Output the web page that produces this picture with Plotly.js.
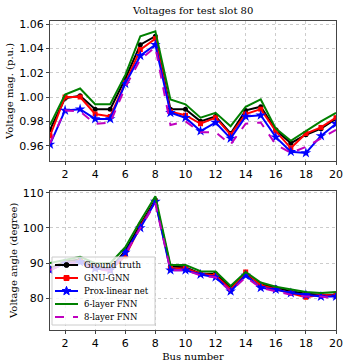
<!DOCTYPE html>
<html>
<head>
<meta charset="utf-8">
<script src="https://cdn.plot.ly/plotly-3.0.1.min.js"></script>
<style>
  html, body { margin: 0; padding: 0; background: #fff; }
  #plot { width: 348px; height: 363px; }
</style>
</head>
<body>
<div id="plot"></div>
<script>
// bus numbers
let buses = [1, 2, 3, 4, 5, 6, 7, 8, 9, 10, 11, 12, 13, 14, 15, 16, 17, 18, 19, 20];

// voltage magnitude (p.u.)
let magTruth = [0.973, 0.999, 1.001, 0.990, 0.990, 1.015, 1.043, 1.050, 0.990, 0.990,
                0.980, 0.984, 0.970, 0.989, 0.992, 0.973, 0.962, 0.969, 0.974, 0.982];
let magGnn   = [0.968, 1.000, 1.000, 0.986, 0.984, 1.012, 1.039, 1.048, 0.988, 0.985,
                0.978, 0.983, 0.969, 0.986, 0.990, 0.972, 0.958, 0.970, 0.975, 0.983];
let magProx  = [0.961, 0.989, 0.990, 0.982, 0.982, 1.011, 1.034, 1.043, 0.987, 0.983,
                0.972, 0.979, 0.966, 0.984, 0.985, 0.967, 0.955, 0.954, 0.968, 0.978];
let magFnn6  = [0.977, 1.002, 1.007, 0.994, 0.994, 1.018, 1.050, 1.054, 0.998, 0.994,
                0.983, 0.987, 0.976, 0.992, 0.998, 0.974, 0.964, 0.972, 0.980, 0.987];
let magFnn8  = [0.962, 0.989, 0.988, 0.978, 0.979, 1.008, 1.031, 1.041, 0.977, 0.980,
                0.971, 0.971, 0.961, 0.978, 0.979, 0.961, 0.954, 0.959, 0.966, 0.973];

// voltage angle (degree)
let angTruth = [88.5, 90.5, 91.0, 89.0, 88.5, 93.5, 101.0, 108.0, 89.0, 88.8,
                87.0, 87.0, 83.0, 87.0, 84.0, 83.0, 82.0, 81.3, 81.0, 81.0];
let angGnn   = [88.0, 90.0, 90.5, 88.5, 88.0, 92.0, 100.5, 107.5, 88.5, 88.5,
                87.0, 86.5, 82.5, 87.5, 83.7, 82.5, 81.5, 80.3, 81.0, 80.8];
let angProx  = [88.0, 90.0, 90.3, 88.5, 88.0, 93.0, 100.0, 107.5, 88.0, 88.0,
                86.8, 86.0, 82.0, 86.5, 83.0, 82.5, 81.5, 81.0, 80.5, 80.5];
let angFnn6  = [90.0, 91.0, 91.8, 90.0, 90.0, 94.5, 102.0, 109.0, 89.5, 89.5,
                87.7, 87.6, 83.5, 87.5, 84.5, 83.3, 82.5, 81.8, 81.5, 81.8];
let angFnn8  = [88.0, 89.8, 90.0, 88.3, 87.8, 92.5, 100.0, 107.0, 88.0, 88.0,
                86.5, 86.0, 82.0, 86.0, 83.0, 82.0, 81.0, 80.5, 80.5, 80.0];

let names = ['Ground truth', 'GNU-GNN', 'Prox-linear net', '6-layer FNN', '8-layer FNN'];
let colors = ['black', '#ff0000', '#0000ff', '#008000', '#bf00bf'];
let symbols = ['circle', 'square', 'star', null, null];

let magSeries = [magTruth, magGnn, magProx, magFnn6, magFnn8];
let angSeries = [angTruth, angGnn, angProx, angFnn6, angFnn8];

function traceStyle(i) {
  let s = {line: {color: colors[i], width: 2, dash: i === 4 ? 'dash' : 'solid'}};
  if (symbols[i]) {
    s.mode = 'lines+markers';
    s.marker = {symbol: symbols[i], size: symbols[i] === 'star' ? 8 : 5, color: colors[i]};
  } else {
    s.mode = 'lines';
  }
  return s;
}

let data = [];
magSeries.forEach(function (ys, i) {
  data.push(Object.assign({x: buses, y: ys, name: names[i], type: 'scatter',
    xaxis: 'x', yaxis: 'y', showlegend: false}, traceStyle(i)));
});
angSeries.forEach(function (ys, i) {
  data.push(Object.assign({x: buses, y: ys, name: names[i], type: 'scatter',
    xaxis: 'x2', yaxis: 'y2', showlegend: false}, traceStyle(i)));
});

// margins / pixel helpers (plot area is 50..336 x 21..330)
let M = {l: 50, r: 12, t: 21, b: 33};
let PW = 348 - M.l - M.r, PH = 363 - M.t - M.b;
function fx(px) { return (px - M.l) / PW; }
function fy(py) { return (363 - M.b - py) / PH; }

// matplotlib-style legend built from shapes + annotations (plotly's own legend rows are too tall)
let shapes = [{type: 'rect', xref: 'paper', yref: 'paper', x0: fx(52), x1: fx(155), y0: fy(325), y1: fy(257),
  fillcolor: 'rgba(255,255,255,0.8)', line: {color: '#cccccc', width: 1}}];
let annotations = [];

function starPath(ro, ri) {
  let p = '';
  for (let k = 0; k < 10; k++) {
    let r = k % 2 ? ri : ro;
    let a = Math.PI / 2 + k * Math.PI / 5;
    p += (k ? 'L' : 'M') + (r * Math.cos(a)).toFixed(2) + ',' + (r * Math.sin(a)).toFixed(2);
  }
  return p + 'Z';
}

names.forEach(function (nm, i) {
  let cy = 265 + i * 13;
  shapes.push({type: 'line', xref: 'paper', yref: 'paper', x0: fx(55), x1: fx(78), y0: fy(cy), y1: fy(cy),
    line: {color: colors[i], width: 2, dash: i === 4 ? 'dash' : 'solid'}});
  let base = {xref: 'paper', yref: 'paper', xsizemode: 'pixel', ysizemode: 'pixel',
    xanchor: fx(66.5), yanchor: fy(cy), fillcolor: colors[i], line: {color: colors[i], width: 1}};
  if (symbols[i] === 'circle') {
    shapes.push(Object.assign({type: 'circle', x0: -2.5, x1: 2.5, y0: -2.5, y1: 2.5}, base));
  } else if (symbols[i] === 'square') {
    shapes.push(Object.assign({type: 'rect', x0: -2.5, x1: 2.5, y0: -2.5, y1: 2.5}, base));
  } else if (symbols[i] === 'star') {
    shapes.push(Object.assign({type: 'path', path: starPath(4.6, 1.9)}, base));
  }
  annotations.push({xref: 'paper', yref: 'paper', x: fx(82), y: fy(cy), xanchor: 'left', yanchor: 'middle',
    text: nm, showarrow: false, font: {family: 'DejaVu Serif', size: 8.5, color: 'black'}});
});

let tickFont = {family: 'DejaVu Sans', size: 11, color: 'black'};
let serif = {family: 'DejaVu Serif', size: 10, color: 'black'};

let axisBase = {
  showline: true, linecolor: '#444', linewidth: 1, mirror: true,
  ticks: 'outside', ticklen: 3, tickcolor: '#444',
  showgrid: true, gridcolor: '#cccccc', griddash: 'dot', gridwidth: 1,
  zeroline: false, tickfont: tickFont, automargin: false
};

let layout = {
  width: 348, height: 363,
  margin: M,
  showlegend: false,
  paper_bgcolor: 'white', plot_bgcolor: 'white',
  title: {text: 'Voltages for test slot 80', font: serif,
    x: 0.555, xanchor: 'center', y: 0.97, yanchor: 'middle'},
  xaxis: Object.assign({}, axisBase, {range: [1, 20], tickvals: [2, 4, 6, 8, 10, 12, 14, 16, 18, 20], anchor: 'y'}),
  yaxis: Object.assign({}, axisBase, {domain: [0.547, 1], range: [0.9474, 1.0625],
    tickvals: [0.96, 0.98, 1.00, 1.02, 1.04, 1.06], tickformat: '.2f',
    title: {text: 'Voltage mag. (p.u.)', font: serif, standoff: 3}}),
  xaxis2: Object.assign({}, axisBase, {domain: [0, 1], range: [1, 20], tickvals: [2, 4, 6, 8, 10, 12, 14, 16, 18, 20], anchor: 'y2',
    title: {text: 'Bus number', font: serif, standoff: 3}}),
  yaxis2: Object.assign({}, axisBase, {domain: [0, 0.451], range: [71, 110.6],
    tickvals: [80, 90, 100, 110],
    title: {text: 'Voltage angle (degree)', font: serif, standoff: 3}}),
  shapes: shapes,
  annotations: annotations
};

Plotly.newPlot('plot', data, layout, {displayModeBar: false, staticPlot: true});
</script>
</body>
</html>
